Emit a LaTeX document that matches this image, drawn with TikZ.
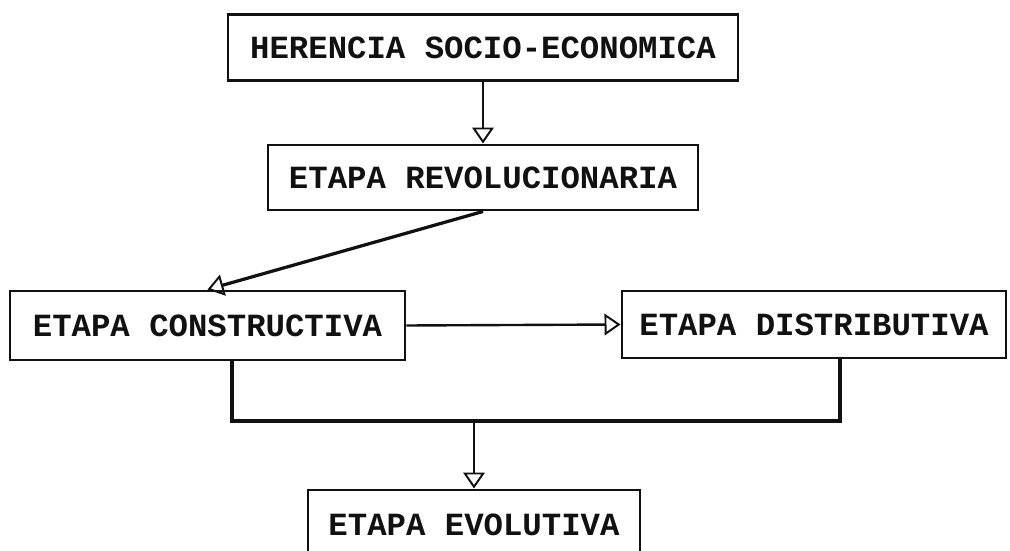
\documentclass[tikz,border=0pt]{standalone}
\usepackage{fontspec}
\newfontfamily\maquina{Liberation Mono}
\usetikzlibrary{arrows.meta,positioning}
\definecolor{tinta}{HTML}{111111}
\tikzset{
  >={Triangle[open,length=4mm,width=5.4mm,line width=1.4pt]},
  % cajas
  caja/.style={rectangle,draw=tinta,line width=2.1pt,fill=white,inner sep=0pt,
               font=\maquina\bfseries\fontsize{23}{27}\selectfont,text=tinta},
  % lineas
  flecha/.style={->,draw=tinta,line width=1.7pt},
  linea/.style={draw=tinta,line width=2.2pt,line join=miter},
}
\begin{document}
\begin{tikzpicture}
  \useasboundingbox (0,0) rectangle (25.25,13.775);
  \clip (0,0) rectangle (25.25,13.775);
  \node[caja,minimum width=12.75cm,minimum height=1.65cm] (herencia) at (12.075,12.5875) {HERENCIA SOCIO-ECONOMICA};
  \node[caja,minimum width=10.75cm,minimum height=1.625cm] (revol) at (12.075,9.3375) {ETAPA REVOLUCIONARIA};
  \node[caja,minimum width=9.875cm,minimum height=1.725cm] (constr) at (5.1875,5.6375) {ETAPA CONSTRUCTIVA};
  \node[caja,minimum width=9.6cm,minimum height=1.675cm] (distr) at (20.35,5.6625) {ETAPA DISTRIBUTIVA};
  \node[caja,minimum width=8.3cm,minimum height=1.75cm] (evol) at (11.85,0.65) {ETAPA EVOLUTIVA};
  \coordinate (jl) at (5.8,3.25);
  \coordinate (jr) at (21.0,3.25);
  \draw[flecha] (herencia) -- (revol);
  \draw[flecha,line width=2.3pt] (revol.south) -- (constr.north);
  \draw[flecha] (constr.east) -- (distr.west);
  \draw[linea] (constr.south -| jl) -- (jl) -- (jr) -- (distr.south -| jr);
  \draw[flecha] (jl -| evol.north) -- (evol.north);
\end{tikzpicture}
\end{document}
